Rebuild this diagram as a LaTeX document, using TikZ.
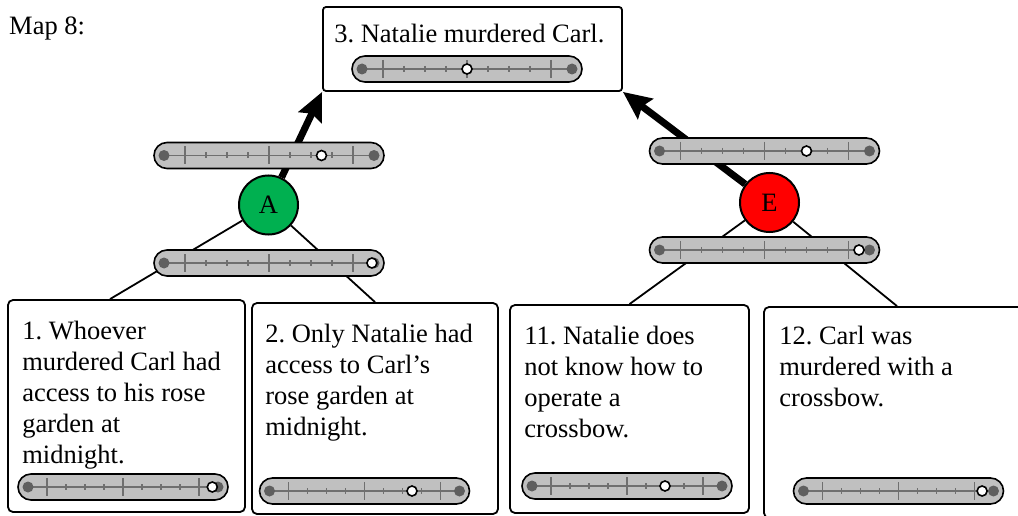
\documentclass[tikz,border=0pt]{standalone}
\usepackage{fontspec}
\setmainfont{Liberation Serif}
\usepackage{tikz}
\usetikzlibrary{positioning, arrows.meta}
\definecolor{pillgray}{HTML}{C0C0C0}
\definecolor{dotgray}{HTML}{5F5F5F}
\definecolor{tickgray}{HTML}{6F6F6F}
\definecolor{agreen}{HTML}{00B050}
\definecolor{ered}{HTML}{FF0000}
\tikzset {
    x=1pt, y=-1pt,
    every node/.style={font=\fontsize{26.5pt}{31pt}\selectfont},
    claim/.style={draw, line width=1.8pt, rounded corners=5pt, fill=white},
    claimtext/.style={inner sep=0pt, align=left},
    reason/.style={circle, draw, line width=2pt, minimum size=59pt, inner sep=0pt},
    support/.style={line width=1.8pt},
    infer/.style={-{Stealth[length=28pt, width=25pt, inset=4pt]}, line width=7pt},
    confpill/.style={draw, line width=1.6pt, fill=pillgray, rounded corners=13pt},
    conftick/.style={draw=tickgray, line width=1.2pt}
}
% confidence bar: x, y, half span, value
\newcommand{\confbar}[4]{
    \begin{scope}[shift={(#1,#2)}]
        \draw[confpill] (-#3-10,-13) rectangle (#3+10,13);
        \draw[conftick] (-#3,0) -- (#3,0);
        \foreach \k in {2,3,4,6,7,8}
            \draw[conftick] ({-#3+#3*\k/5},-3) -- ({-#3+#3*\k/5},3);
        \foreach \k in {1,5,9}
            \draw[conftick] ({-#3+#3*\k/5},-9) -- ({-#3+#3*\k/5},9);
        \fill[dotgray] (-#3,0) circle (5.5pt) (#3,0) circle (5.5pt);
        \draw[fill=white, line width=1.6pt] ({-#3+2*#3*#4},0) circle (5pt);
    \end{scope}
}

\begin{document}
\frenchspacing
\begin{tikzpicture}
    \clip (0,0) rectangle (1018,516);

    \node[anchor=base west, inner sep=0pt] (title) at (9,35) {Map 8:};

    % claims
    \node[claim, rounded corners=3pt, minimum width=299pt, minimum height=84pt] (c3) at (472.5,49) {};
    \node[claimtext, below right=18pt and 12pt of c3.north west] (t3) {3. Natalie murdered Carl.};

    \node[claim, minimum width=237pt, minimum height=212pt] (c1) at (126.5,406) {};
    \node[claimtext, below right=22pt and 15pt of c1.north west] (t1) {1. Whoever\\murdered Carl had\\access to his rose\\garden at\\midnight.};

    \node[claim, minimum width=246pt, minimum height=211pt] (c2) at (375,408.5) {};
    \node[claimtext, below right=22pt and 14pt of c2.north west] (t2) {2. Only Natalie had\\access to Carl's\\rose garden at\\midnight.};

    \node[claim, minimum width=239pt, minimum height=208pt] (c11) at (629.5,409) {};
    \node[claimtext, below right=22pt and 15pt of c11.north west] (t11) {11. Natalie does\\not know how to\\operate a\\crossbow.};

    \node[claim, minimum width=266pt, minimum height=211pt] (c12) at (897,412.5) {};
    \node[claimtext, below right=20pt and 16pt of c12.north west] (t12) {12. Carl was\\murdered with a\\crossbow.};

    % reasons
    \node[reason, fill=agreen] (A) at (268.5,205) {A};
    \node[reason, fill=ered] (E) at (769.5,202.5) {E};

    \draw[support] (A) -- ([xshift=-16.5pt]c1.north);
    \draw[support] (A) -- (c2.north);
    \draw[support] (E) -- (c11.north);
    \draw[support] (E) -- (c12.north);

    \draw[infer] (A) -- (c3.south west);
    \draw[infer] (E) -- (c3.south east);

    % confidence bars
    \confbar{467}{69}{105}{0.5}
    \confbar{269}{155.5}{105}{0.75}
    \confbar{269}{263}{105}{0.99}
    \confbar{764.5}{151}{105}{0.7}
    \confbar{764.5}{250}{105}{0.95}
    \confbar{123}{487}{95}{0.97}
    \confbar{364.5}{491}{95}{0.75}
    \confbar{627}{486}{95}{0.7}
    \confbar{898.5}{491}{95}{0.94}
\end{tikzpicture}
\end{document}
